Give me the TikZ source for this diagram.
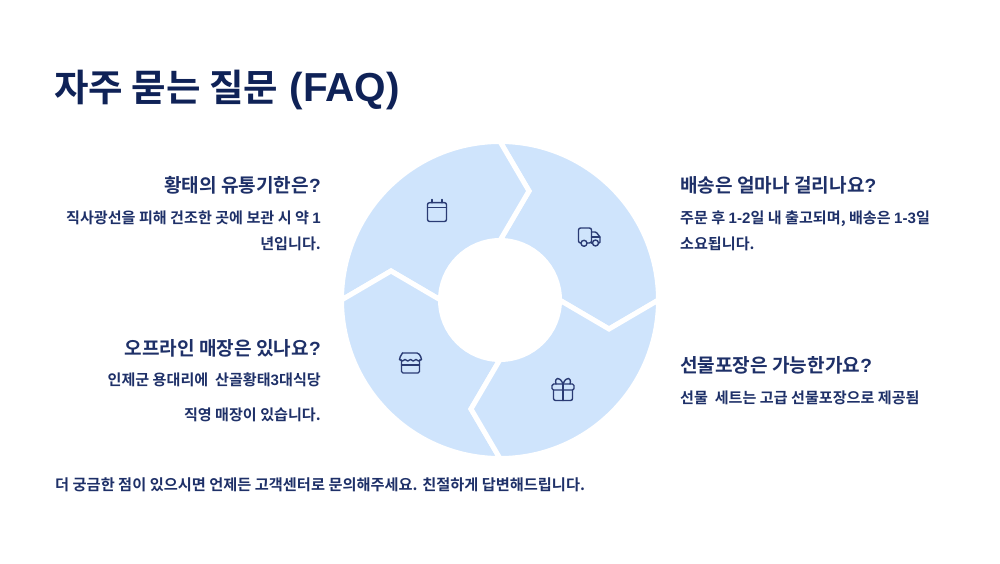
\documentclass[tikz,border=0pt]{standalone}
\usepackage{fontspec}
\usepackage{xcolor}
\usepackage{tikz}
\usetikzlibrary{positioning,calc}
\setmainfont{Noto Sans CJK KR}[BoldFont={Noto Sans CJK KR Bold}]
\newfontfamily\latfont{Liberation Sans}
\newcommand{\lat}[1]{{\latfont\bfseries #1}}
\definecolor{titlenavy}{HTML}{0F2257}
\definecolor{textnavy}{HTML}{1E3068}
\definecolor{iconnavy}{HTML}{2A3B74}
\definecolor{wheelblue}{HTML}{CFE4FC}
\tikzset{
  title/.style={font=\fontsize{37.5}{44}\selectfont\bfseries, text=titlenavy, inner sep=0pt},
  question/.style={font=\fontsize{19.1}{24}\selectfont\bfseries, text=textnavy, inner sep=0pt},
  answer/.style={font=\fontsize{15.1}{25.5}\selectfont\bfseries, text=textnavy, inner sep=0pt},
  segment/.style={fill=wheelblue, draw=white, line width=5pt, line join=miter},
  icon/.style={draw=iconnavy, line width=1.4pt, line join=round, line cap=round},
}
\begin{document}
\begin{tikzpicture}[x=1pt,y=1pt]
    \useasboundingbox (0,0) rectangle (1000,563);

    % wheel
    \foreach \angle in {0,90,180,270} {
        \begin{scope}[shift={(500,263)},rotate=\angle]
            \path[segment] (0,158.5) -- (29,109) -- (0,59.5) arc[start angle=90,end angle=0,radius=59.5]
                -- (109,-29) -- (158.5,0) arc[start angle=0,end angle=90,radius=158.5] -- cycle;
        \end{scope}
    }

    % icons
    \begin{scope}[shift={(437,352)}]
        \draw[icon,rounded corners=2pt] (-9.5,-10.5) rectangle (9.5,8.3);
        \draw[icon] (-9.5,3.7) -- (9.5,3.7) (-5,8.3) -- (-5,11.5) (5,8.3) -- (5,11.5);
    \end{scope}
    \begin{scope}[shift={(589,326)}]
        \draw[icon,rounded corners=2pt] (-8,-6) -- (-10.5,-6) -- (-10.5,9) -- (2.5,9) -- (2.5,-6) -- (-2,-6);
        \draw[icon,rounded corners=1pt] (2.5,5) -- (7,5) -- (11,0) -- (11,-6) -- (9.5,-6);
        \draw[icon] (2.5,-6) -- (3.5,-6) (2.5,0) -- (11,0);
        \draw[icon] (-5,-6.3) circle[radius=3] (6.5,-6) circle[radius=3];
    \end{scope}
    \begin{scope}[shift={(410.5,200)}]
        \draw[icon,rounded corners=1.5pt] (-9,3) -- (-9,-10) -- (9,-10) -- (9,3);
        \draw[icon] (-9,-2) -- (9,-2);
        \draw[icon,rounded corners=1.5pt] (-8,10) -- (8,10) -- (11,5) -- (11,3.5);
        \draw[icon,rounded corners=1.5pt] (-8,10) -- (-11,5) -- (-11,3.5);
        \draw[icon] (-11,3.5) .. controls (-9,1.5) and (-7,1.5) .. (-5.5,3.5) .. controls (-4,1.5) and (-1.5,1.5) .. (0,3.5)
            .. controls (1.5,1.5) and (4,1.5) .. (5.5,3.5) .. controls (7,1.5) and (9,1.5) .. (11,3.5);
    \end{scope}
    \begin{scope}[shift={(563,174)}]
        \draw[icon,rounded corners=1.5pt] (-11,-1) rectangle (11,5);
        \draw[icon,rounded corners=2pt] (-9.5,-1) -- (-9.5,-11.5) -- (9.5,-11.5) -- (9.5,-1);
        \draw[icon] (0,5) -- (0,-11.5);
        \draw[icon] (0,5) .. controls (-3,13) and (-9,12) .. (-7,5);
        \draw[icon] (0,5) .. controls (3,13) and (9,12) .. (7,5);
    \end{scope}

    % texts
    \node[title, anchor=west] (heading) at (54,473) {자주 묻는 질문 \hspace{3pt}{\fontsize{40.5}{44}\selectfont\lat{(FAQ)}}};

    \node[question, anchor=east] (shelfq) at (321,378) {황태의 유통기한은\lat{?}};
    \node[answer, align=right, anchor=north east] (shelfa) at (321,352) {직사광선을 피해 건조한 곳에 보관 시 약 \lat{1}\\년입니다.};

    \node[question, anchor=east] (storeq) at (321,215) {오프라인 매장은 있나요\lat{?}};
    \node[answer, align=right, anchor=north east] (storea) at (321,190) {인제군 용대리에 \ 산골황태\lat{3}대식당\\[9pt]직영 매장이 있습니다.};

    \node[question, anchor=west] (shipq) at (680,378) {배송은 얼마나 걸리나요\lat{?}};
    \node[answer, align=left, anchor=north west] (shipa) at (680,352) {주문 후 \lat{1-2}일 내 출고되며, 배송은 \lat{1-3}일\\소요됩니다.};

    \node[question, anchor=west] (giftq) at (680,198) {선물포장은 가능한가요\lat{?}};
    \node[answer, anchor=north west] (gifta) at (680,172) {선물 \ 세트는 고급 선물포장으로 제공됨};

    \node[answer, anchor=west, font=\fontsize{15.25}{25.5}\selectfont\bfseries] (footer) at (55,78) {더 궁금한 점이 있으시면 언제든 고객센터로 문의해주세요. 친절하게 답변해드립니다.};
\end{tikzpicture}
\end{document}
